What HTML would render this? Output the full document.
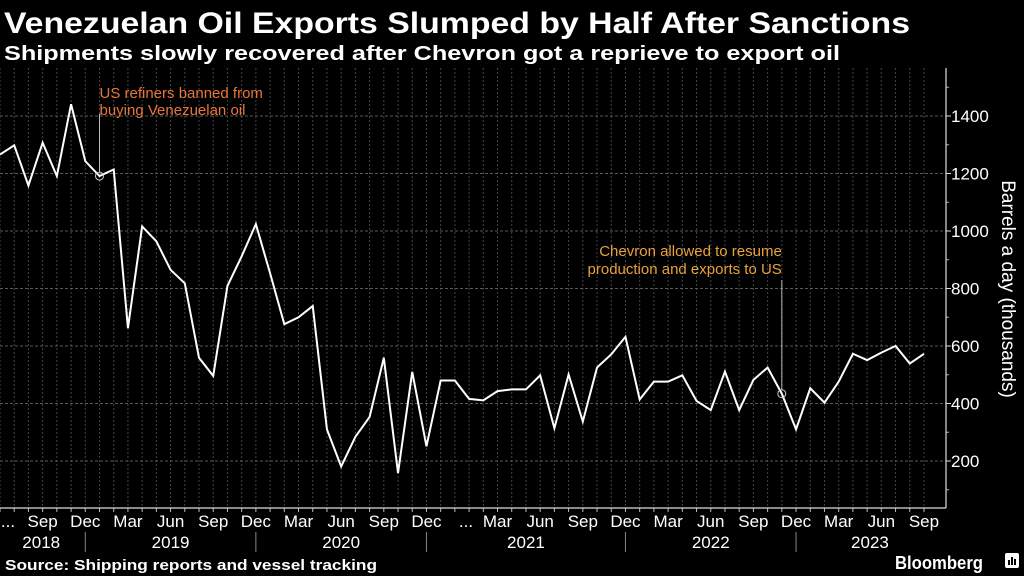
<!DOCTYPE html>
<html><head><meta charset="utf-8"><style>
html,body{margin:0;padding:0;background:#000;}
svg{display:block;font-family:"Liberation Sans",sans-serif;}
</style></head><body>
<svg id="chart" width="1024" height="576" viewBox="0 0 1024 576" xmlns="http://www.w3.org/2000/svg">
<rect width="1024" height="576" fill="#000"/>
<text x="4" y="33" fill="#fff" font-size="30" font-weight="bold" textLength="906" lengthAdjust="spacingAndGlyphs">Venezuelan Oil Exports Slumped by Half After Sanctions</text>
<text x="4" y="60" fill="#fff" font-size="20" font-weight="bold" textLength="836" lengthAdjust="spacingAndGlyphs">Shipments slowly recovered after Chevron got a reprieve to export oil</text>
<g id="grid"></g>
<g id="axes"></g>
<g id="marks"></g>
<text transform="translate(1002,289) rotate(90)" text-anchor="middle" fill="#fff" font-size="19">Barrels a day (thousands)</text>
<text x="5" y="570" fill="#fff" font-size="15" font-weight="bold" textLength="372" lengthAdjust="spacingAndGlyphs">Source: Shipping reports and vessel tracking</text>
<text x="895" y="569" fill="#fff" font-size="18" font-weight="bold" textLength="88" lengthAdjust="spacingAndGlyphs">Bloomberg</text>
<g><rect x="1005" y="553" width="14" height="15" rx="2" fill="#fff"/><rect x="1008" y="560" width="2" height="5" fill="#000"/><rect x="1011" y="557" width="2" height="8" fill="#000"/><rect x="1014" y="559" width="2" height="6" fill="#000"/></g>
</svg>
<script>
const values=[1266,1298,1158,1307,1191,1441,1243,1191,1214,662,1016,964,865,818,559,496,809,912,1024,853,676,700,739,310,181,284,353,559,158,510,251,480,480,416,411,443,449,449,498,314,501,337,525,571,632,414,476,476,498,409,377,511,377,482,525,434,310,453,403,476,573,551,577,600,539,573];
const monthTicks=[3,6,9,12,15,18,21,24,27,30,35,38,41,44,47,50,53,56,59,62,65];
const monthLabels=["Sep","Dec","Mar","Jun","Sep","Dec","Mar","Jun","Sep","Dec","Mar","Jun","Sep","Dec","Mar","Jun","Sep","Dec","Mar","Jun","Sep"];
const yearLabels=["2018","2019","2020","2021","2022","2023"];
const yearCenters=[2.9,12,24,37,50,61.2];
const yearSeps=[6,18,30,44,56];
const yTicks=[200,400,600,800,1000,1200,1400];
const ann1Index=7, ann2Index=55;

const NS="http://www.w3.org/2000/svg";
const X0=0, DX=14.215, PLOT_TOP=68, PLOT_BOTTOM=508, AXIS_X=946;
const xs=i=>X0+i*DX;
const ys=v=>116+(1400-v)*0.2875;
function mk(parent,tag,attrs){const e=document.createElementNS(NS,tag);for(const k in attrs)e.setAttribute(k,attrs[k]);parent.appendChild(e);return e;}
const grid=document.getElementById('grid'),axes=document.getElementById('axes'),marks=document.getElementById('marks');

for(let i=0;i<values.length;i++){
  const l=mk(grid,'line',{x1:xs(i),x2:xs(i),y1:PLOT_TOP,y2:PLOT_BOTTOM,stroke:'#444','stroke-width':1,'stroke-dasharray':'2,2'});
  
  
  const t=mk(axes,'line',{x1:xs(i),x2:xs(i),y1:PLOT_BOTTOM,y2:PLOT_BOTTOM+4,stroke:'#bbb','stroke-width':1});
  
  
}
for(const v of yTicks){
  const l=mk(grid,'line',{x1:0,x2:AXIS_X,y1:ys(v),y2:ys(v),stroke:'#5a5a5a','stroke-width':1,'stroke-dasharray':'3,2'});
  
  
  const tk=mk(axes,'line',{x1:AXIS_X,x2:AXIS_X+5,y1:ys(v),y2:ys(v),stroke:'#ddd'});
  
  
  const t=mk(axes,'text',{x:AXIS_X+5,y:ys(v)+6,fill:'#fff','font-size':17});
  t.textContent=v;
  
  
}
for(let v=100;v<=1500;v+=200){
  const tk=mk(axes,'line',{x1:AXIS_X,x2:AXIS_X+3,y1:ys(v),y2:ys(v),stroke:'#aaa'});
  
  
}
const ya=mk(axes,'line',{x1:AXIS_X,x2:AXIS_X,y1:PLOT_TOP,y2:PLOT_BOTTOM,stroke:'#ddd','stroke-width':1.2});


const xa=mk(axes,'line',{x1:0,x2:AXIS_X,y1:PLOT_BOTTOM,y2:PLOT_BOTTOM,stroke:'#ddd','stroke-width':1.2});



monthTicks.forEach((idx,k)=>{
  const t=mk(axes,'text',{x:xs(idx),y:527,fill:'#fff','font-size':17,'text-anchor':'middle'});
  t.textContent=monthLabels[k];
  
  
});
[[8,'...'],[466,'...']].forEach(([x,s])=>{
  const t=mk(axes,'text',{x:x,y:527,fill:'#fff','font-size':17,'text-anchor':'middle'});
  t.textContent=s;
  
  
});
yearLabels.forEach((s,k)=>{
  const t=mk(axes,'text',{x:xs(yearCenters[k]),y:548,fill:'#fff','font-size':17,'text-anchor':'middle'});
  t.textContent=s;
  
  
});
yearSeps.forEach(i=>{
  const l=mk(axes,'line',{x1:xs(i),x2:xs(i),y1:532,y2:552,stroke:'#888'});
  
  
});

const line=mk(marks,'polyline',{points:values.map((v,i)=>xs(i)+','+ys(v)).join(' '),fill:'none',stroke:'#fff','stroke-width':2,'stroke-linejoin':'miter'});



const a1x=xs(ann1Index),a1y=ys(values[ann1Index]);
const l1=mk(marks,'line',{x1:a1x,x2:a1x,y1:114,y2:a1y-4,stroke:'#bbb'});


const c1=mk(marks,'circle',{cx:a1x,cy:a1y,r:4,fill:'none',stroke:'#ccc'});


const t1=mk(marks,'text',{x:a1x,y:98,fill:'#e8763c','font-size':15});


t1.innerHTML='<tspan x="'+a1x+'">US refiners banned from</tspan><tspan x="'+a1x+'" dy="17">buying Venezuelan oil</tspan>';

const a2x=xs(ann2Index),a2y=ys(values[ann2Index]);
const l2=mk(marks,'line',{x1:a2x,x2:a2x,y1:280,y2:a2y-4,stroke:'#bbb'});


const c2=mk(marks,'circle',{cx:a2x,cy:a2y,r:4,fill:'none',stroke:'#ccc'});


const t2=mk(marks,'text',{x:a2x,y:256,fill:'#e8a23c','font-size':15,'text-anchor':'end'});


t2.innerHTML='<tspan x="'+a2x+'">Chevron allowed to resume</tspan><tspan x="'+a2x+'" dy="18">production and exports to US</tspan>';
</script>
</body></html>
